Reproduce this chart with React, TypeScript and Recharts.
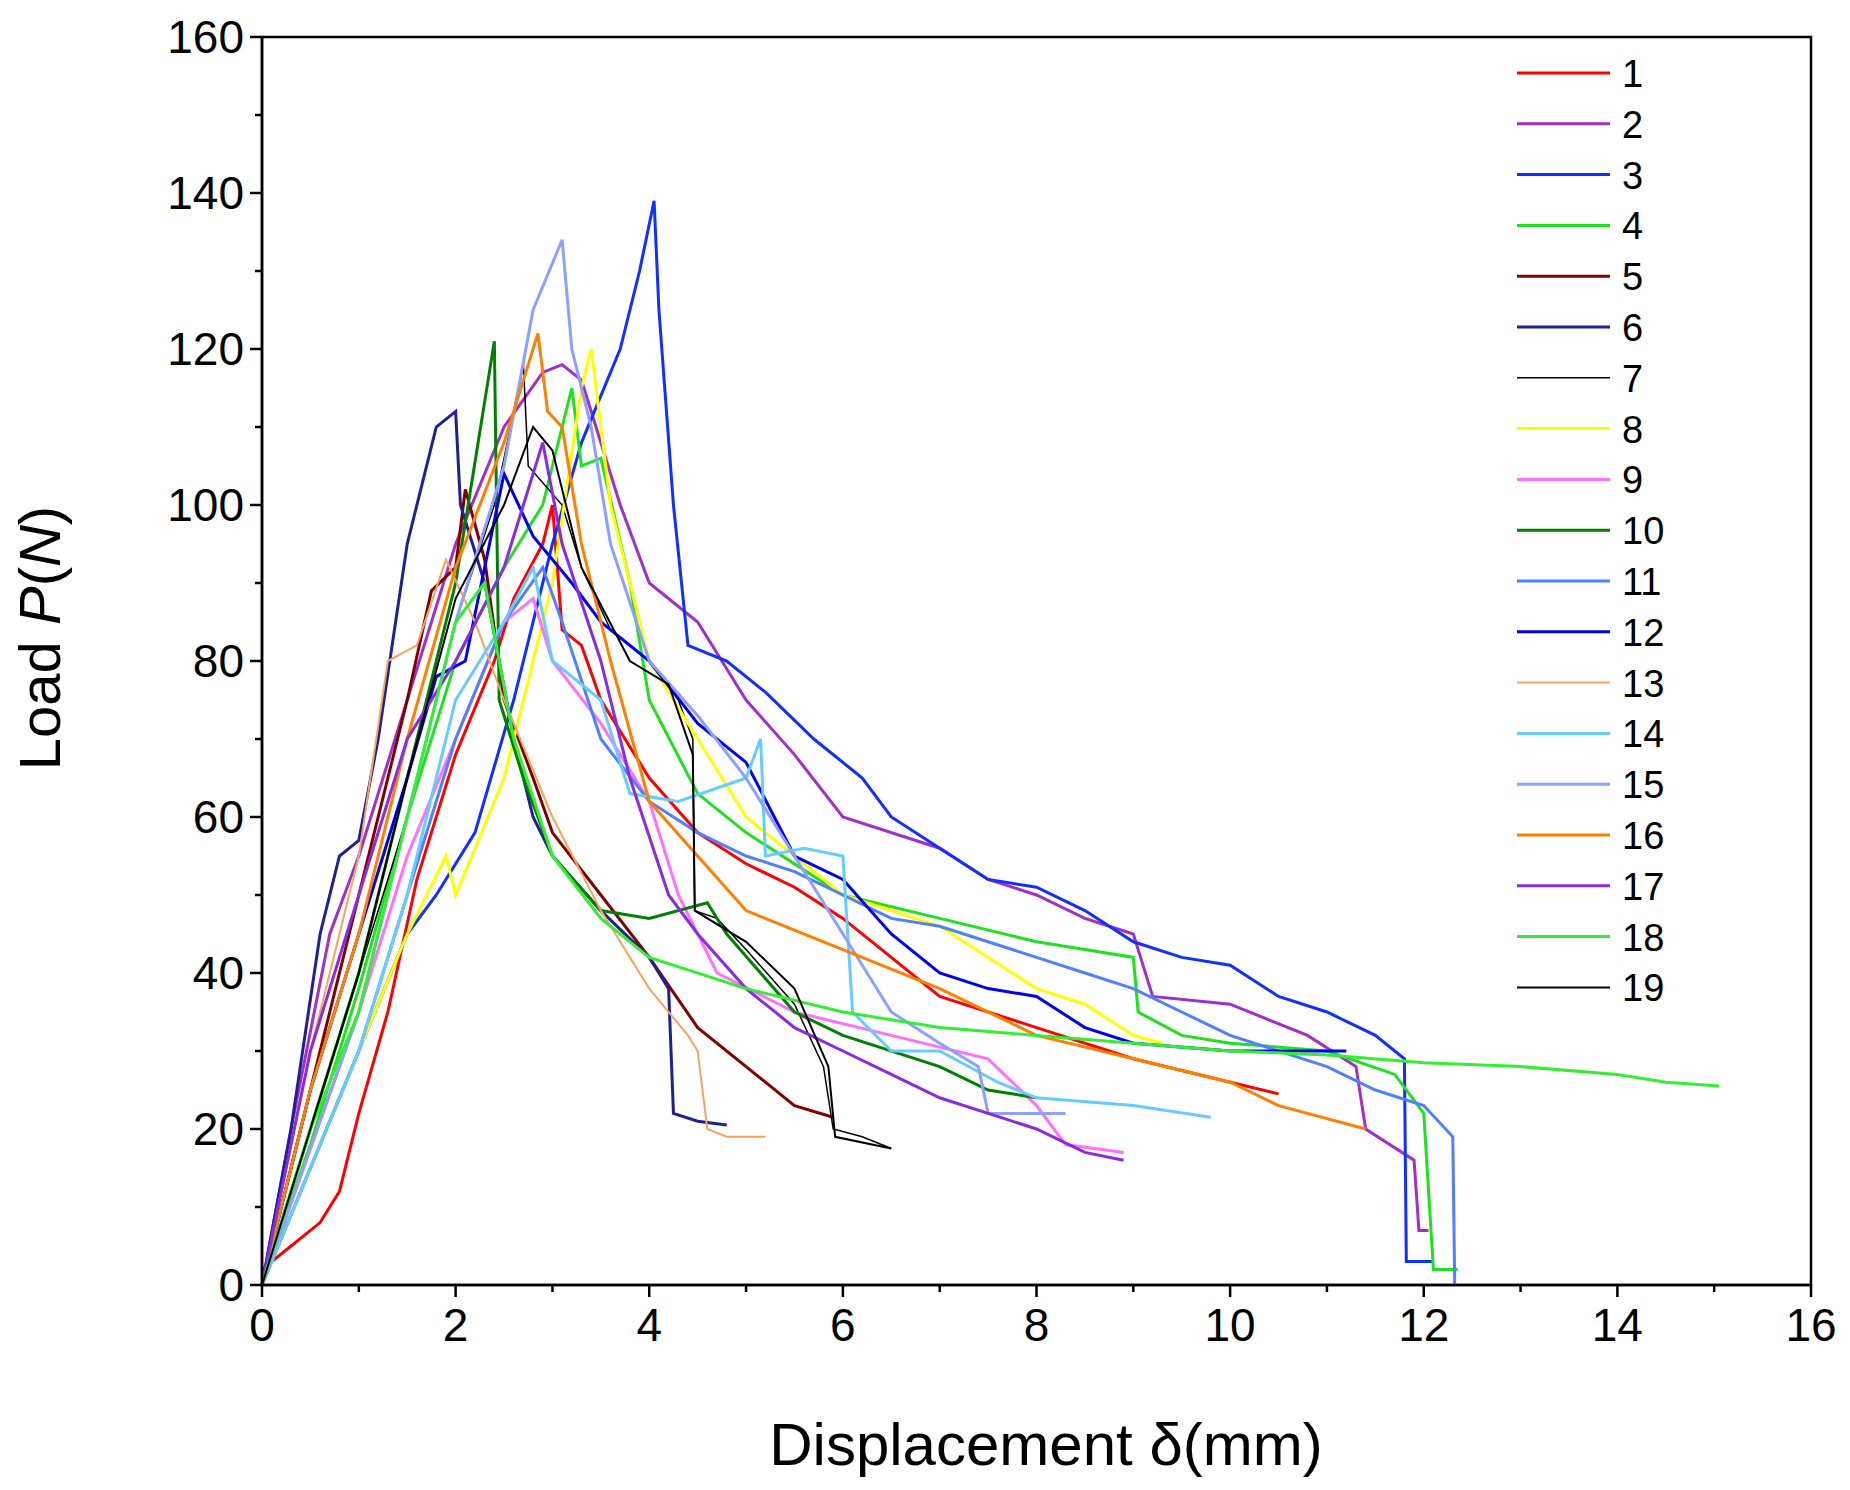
import React from "react"
import { LineChart, Line, XAxis, YAxis, Label } from "recharts"

type Pt = [number, number]

const s1: Pt[] = [[0,2],[0.3,5],[0.6,8],[0.8,12],[1,22],[1.3,35],[1.6,52],[2,68],[2.4,80],[2.6,88],[2.9,95],[3.0,100],[3.1,84],[3.3,82],[3.5,75],[4,65],[4.5,58],[5,54],[5.5,51],[6,47],[6.5,42],[7,37],[8,33],[9,29],[10,26],[10.5,24.5]]
const s2: Pt[] = [[0,0],[0.3,20],[0.7,45],[1,55],[1.5,75],[2,95],[2.5,110],[2.9,117],[3.1,118],[3.3,116],[3.7,100],[4,90],[4.5,85],[5,75],[5.5,68],[6,60],[7,56],[7.5,52],[8,50],[8.5,47],[9,45],[9.2,37],[10,36],[10.8,32],[11.3,28],[11.4,20],[11.9,16],[11.95,7],[12.05,7]]
const s3: Pt[] = [[0,0],[0.5,15],[1,30],[1.5,45],[1.8,50],[2.2,58],[2.6,75],[3,95],[3.3,108],[3.7,120],[3.9,130],[4.05,139],[4.1,125],[4.25,100],[4.4,82],[4.8,80],[5.2,76],[5.7,70],[6.2,65],[6.5,60],[7,56],[7.5,52],[8,51],[8.5,48],[9,44],[9.5,42],[10,41],[10.5,37],[11,35],[11.5,32],[11.8,29],[11.82,3],[12.1,3]]
const s4: Pt[] = [[0,0],[0.5,18],[1,38],[1.5,60],[2,80],[2.5,92],[2.9,100],[3.2,115],[3.3,105],[3.5,106],[3.8,90],[4,75],[4.5,63],[5,58],[6,50],[7,47],[8,44],[8.5,43],[9,42],[9.05,35],[9.5,32],[10,31],[11,30],[11.7,27],[12,22],[12.1,2],[12.35,2]]
const s5: Pt[] = [[0,0],[0.5,25],[1,50],[1.5,75],[1.75,89],[2,92],[2.1,102],[2.3,93],[2.5,75],[2.8,65],[3,58],[3.5,50],[4,42],[4.5,33],[5,28],[5.5,23],[5.9,21.5]]
const s6: Pt[] = [[0,0],[0.3,20],[0.6,45],[0.8,55],[1,57],[1.2,70],[1.5,95],[1.8,110],[2,112],[2.05,100],[2.3,90],[2.6,70],[2.8,60],[3,55],[3.5,48],[4,42],[4.2,38],[4.25,22],[4.5,21],[4.8,20.5]]
const s7: Pt[] = [[0,0],[1,40],[1.5,60],[2,85],[2.4,100],[2.7,118],[2.75,105],[3.1,100],[3.3,92],[3.6,84],[4,80],[4.3,75],[4.45,70],[4.47,48],[4.7,47],[5,43],[5.5,36],[5.8,28],[5.9,20],[6.2,19],[6.5,17.5]]
const s8: Pt[] = [[0,0],[0.5,15],[1,30],[1.5,45],[1.9,55],[2,50],[2.5,65],[3,90],[3.3,115],[3.4,120],[3.6,100],[4,80],[4.5,70],[5,60],[6,50],[7,46],[7.5,42],[8,38],[8.5,36],[9,32],[9.3,31]]
const s9: Pt[] = [[0,0],[1,35],[1.5,55],[2,70],[2.5,85],[2.8,88],[3,80],[3.5,72],[4,62],[4.3,50],[4.7,40],[5.5,35],[6.5,32],[7.5,29],[8,23],[8.3,18],[8.9,17]]
const s10: Pt[] = [[0,0],[0.5,20],[1,40],[1.5,65],[2,90],[2.4,121],[2.45,75],[2.7,65],[3,55],[3.5,48],[4,47],[4.6,49],[4.8,45],[5.5,35],[6,32],[7,28],[7.5,25],[8,24]]
const s11: Pt[] = [[0,0],[1,30],[1.5,50],[2,70],[2.5,85],[2.9,92],[3.1,85],[3.5,70],[4,62],[4.5,58],[5,55],[5.5,53],[6,50],[6.5,47],[7,46],[8,42],[8.5,40],[9,38],[9.5,35],[10,32],[11,28],[11.5,25],[12,23],[12.3,19],[12.32,0]]
const s12: Pt[] = [[0,0],[0.5,25],[1,45],[1.5,65],[1.8,78],[2.1,80],[2.5,104],[2.8,96],[3.2,90],[3.5,85],[4,80],[4.5,72],[5,67],[5.5,55],[6,52],[6.5,45],[7,40],[7.5,38],[8,37],[8.5,33],[9,31],[10,30],[11,30],[11.2,30]]
const s13: Pt[] = [[0,0],[0.5,30],[1,55],[1.3,80],[1.6,82],[1.9,93],[2.2,85],[2.5,75],[3,60],[3.5,48],[4,38],[4.4,32],[4.5,30],[4.6,20],[4.8,19],[5.2,19]]
const s14: Pt[] = [[0,0],[1,30],[1.5,50],[2,75],[2.5,85],[2.8,92],[3,80],[3.5,75],[3.8,63],[4.3,62],[5,65],[5.15,70],[5.2,55],[5.6,56],[6,55],[6.1,35],[6.5,30],[7,30],[7.6,26],[8,24],[9,23],[9.8,21.5]]
const s15: Pt[] = [[0,0],[1,35],[1.5,60],[2,85],[2.5,105],[2.8,125],[3.1,134],[3.2,120],[3.4,110],[3.6,95],[4,80],[4.5,73],[5,65],[5.5,55],[6,45],[6.5,35],[7,31],[7.4,28],[7.5,22],[8.3,22]]
const s16: Pt[] = [[0,0],[0.5,25],[1,45],[1.5,70],[2,92],[2.5,108],[2.85,122],[2.95,112],[3.1,110],[3.3,95],[3.6,80],[4,62],[4.5,55],[5,48],[6,43],[7,38],[8,32],[9,29],[10,26],[10.5,23],[11.4,20]]
const s17: Pt[] = [[0,0],[0.5,30],[1,50],[1.5,70],[2,80],[2.5,92],[2.9,108],[3.1,95],[3.5,80],[3.8,65],[4.2,50],[4.5,45],[5,38],[5.5,33],[6,30],[6.5,27],[7,24],[7.5,22],[8,20],[8.5,17],[8.9,16]]
const s18: Pt[] = [[0,0],[0.5,20],[1,35],[1.5,60],[2,85],[2.3,90],[2.6,70],[3,55],[3.5,47],[4,42],[5,38],[6,35],[7,33],[8,32],[9,31],[10,30],[11,29.5],[12,28.5],[13,28],[14,27],[14.5,26],[15.05,25.5]]
const s19: Pt[] = [[0,0],[1,40],[1.5,65],[2,88],[2.5,100],[2.8,110],[3,107],[3.3,92],[3.8,80],[4.2,77],[4.45,68],[4.47,48],[5,44],[5.5,38],[5.85,28],[5.92,19],[6.5,17.5]]

const seriesData = [s1, s2, s3, s4, s5, s6, s7, s8, s9, s10, s11, s12, s13, s14, s15, s16, s17, s18, s19]
const seriesNames = ["1","2","3","4","5","6","7","8","9","10","11","12","13","14","15","16","17","18","19"]
const seriesColors = ["#ff0000","#a030c8","#1030ff","#20e020","#800000","#202090","#000000","#ffff00","#ff70ff","#008000","#5080ff","#0000ee","#f4a460","#66ccff","#8ca0ff","#ff8000","#8a2be2","#33ee33","#000000"]
const seriesWidths = [3,3,3,3,3,3,1.5,3,3,3,3,3,2,3,3,3,3,3,2]

const xTicks = Array.from({ length: 17 }, (_, i) => i)
const yTicks = Array.from({ length: 17 }, (_, i) => i * 10)

const FONT = "Liberation Sans, Arial, sans-serif"

const XTick = (props: any) => {
  const { x, y, payload } = props
  const major = payload.value % 2 === 0
  return (
    <g>
      <line x1={x} x2={x} y1={y - 8} y2={y - 8 + (major ? 12 : 7)} stroke="#000" strokeWidth={2.5} />
      {major && (
        <text x={x} y={y + 48} textAnchor="middle" fontSize={46} fontFamily={FONT} fill="#000">
          {payload.value}
        </text>
      )}
    </g>
  )
}

const YTick = (props: any) => {
  const { x, y, payload } = props
  const major = payload.value % 20 === 0
  return (
    <g>
      <line x1={x + 8} x2={x + 8 - (major ? 12 : 7)} y1={y} y2={y} stroke="#000" strokeWidth={2.5} />
      {major && (
        <text x={x - 10} y={y + 16} textAnchor="end" fontSize={46} fontFamily={FONT} fill="#000">
          {payload.value}
        </text>
      )}
    </g>
  )
}

const LegendBox = () => (
  <g>
    <rect x={262} y={37} width={1549} height={1248} fill="none" stroke="#000" strokeWidth={2.5} />
    {seriesNames.map((n, i) => {
      const y = 73 + i * 50.8
      return (
        <g key={n}>
          <line x1={1517} x2={1610} y1={y} y2={y} stroke={seriesColors[i]} strokeWidth={seriesWidths[i]} />
          <text x={1622} y={y + 14} fontSize={38} fontFamily={FONT} fill="#000">{n}</text>
        </g>
      )
    })}
  </g>
)

export default function App() {
  return (
    <div style={{ position: "absolute", left: 0, top: 0, width: 1850, height: 1490, background: "#fff" }}>
      <LineChart width={1850} height={1490} margin={{ top: 37, right: 39, left: 0, bottom: 0 }}>
        <XAxis
          type="number"
          dataKey="x"
          domain={[0, 16]}
          ticks={xTicks}
          interval={0}
          tick={<XTick />}
          tickLine={false}
          axisLine={{ stroke: "#000", strokeWidth: 2.5 }}
          height={205}
        >
          <Label
            content={() => (
              <text x={1046} y={1465} textAnchor="middle" fontSize={60} fontFamily={FONT} fill="#000">
                Displacement  δ(mm)
              </text>
            )}
          />
        </XAxis>
        <YAxis
          type="number"
          domain={[0, 160]}
          ticks={yTicks}
          interval={0}
          tick={<YTick />}
          tickLine={false}
          axisLine={{ stroke: "#000", strokeWidth: 2.5 }}
          width={262}
        >
          <Label
            content={() => (
              <text x={60} y={638} textAnchor="middle" fontSize={58} fontFamily={FONT} fill="#000" transform="rotate(-90 60 638)">
                Load <tspan fontStyle="italic">P</tspan>(<tspan fontStyle="italic">N</tspan>)
              </text>
            )}
          />
        </YAxis>
        {seriesData.map((d, i) => (
          <Line
            key={seriesNames[i]}
            data={d.map(([x, y]) => ({ x, y }))}
            dataKey="y"
            name={seriesNames[i]}
            type="linear"
            stroke={seriesColors[i]}
            strokeWidth={seriesWidths[i]}
            dot={false}
            isAnimationActive={false}
          />
        ))}
        <LegendBox />
      </LineChart>
    </div>
  )
}
